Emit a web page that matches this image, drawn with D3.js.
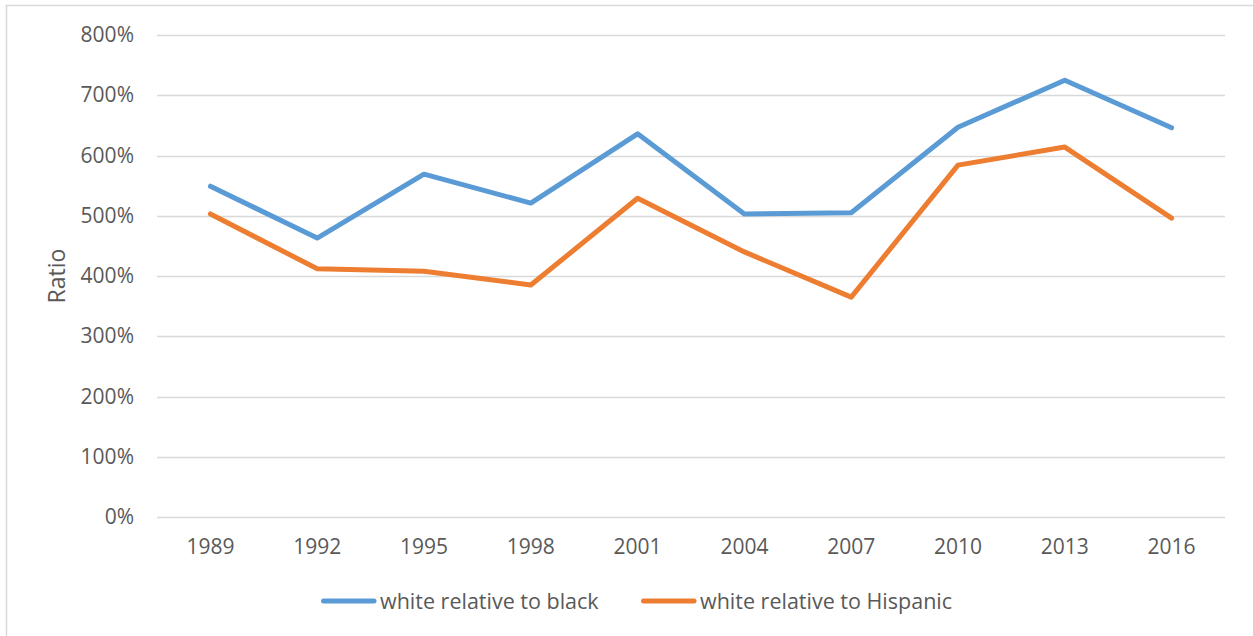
<!DOCTYPE html>
<html>
<head>
<meta charset="utf-8">
<script src="https://cdn.jsdelivr.net/npm/d3@7"></script>
<style>
  html, body { margin: 0; padding: 0; background: #fff; }
  svg { display: block; }
  text { font-family: "Open Sans", sans-serif; fill: #595959; }
</style>
</head>
<body>
<svg id="chart" width="1253" height="636"></svg>
<script>
// Wealth ratio by survey year
const years = ["1989", "1992", "1995", "1998", "2001", "2004", "2007", "2010", "2013", "2016"];
const whiteToBlack = [549, 463, 569, 521, 636, 503, 505, 647, 725, 646];
const whiteToHispanic = [503, 412, 408, 385, 529, 440, 365, 584, 614, 496];
const yTicks = [0, 100, 200, 300, 400, 500, 600, 700, 800];
const seriesNames = ["white relative to black", "white relative to Hispanic"];
const seriesColors = ["#5b9bd5", "#ed7d31"];

const svg = d3.select("#chart");
const W = 1253, H = 636;
const margin = { left: 157, right: 28, top: 35, bottom: 119 };

// outer frame
svg.append("rect")
  .attr("x", 6.5).attr("y", 5.5)
  .attr("width", W + 10).attr("height", H + 10)
  .attr("fill", "none").attr("stroke", "#d9d9d9").attr("stroke-width", 1.5);

const x = d3.scaleBand().domain(years).range([margin.left, W - margin.right]);
const y = d3.scaleLinear().domain([0, 800]).range([H - margin.bottom, margin.top]);

// gridlines
svg.append("g")
  .selectAll("line").data(yTicks).join("line")
  .attr("x1", margin.left).attr("x2", W - margin.right)
  .attr("y1", d => Math.round(y(d)) + 0.5).attr("y2", d => Math.round(y(d)) + 0.5)
  .attr("stroke", "#d9d9d9").attr("stroke-width", 1.5);

// y axis labels
const yAxis = d3.axisLeft(y).tickValues(yTicks).tickFormat(d => d + "%").tickSize(0).tickPadding(23);
const gy = svg.append("g").attr("transform", `translate(${margin.left},0)`).call(yAxis);
gy.select(".domain").remove();
gy.selectAll("text").attr("font-size", 21).attr("font-family", "Open Sans, sans-serif").attr("fill", "#595959");

// x axis labels
const xAxis = d3.axisBottom(x).tickSize(0).tickPadding(22);
const gx = svg.append("g").attr("transform", `translate(0,${H - margin.bottom})`).call(xAxis);
gx.select(".domain").remove();
gx.selectAll("text").attr("font-size", 21).attr("font-family", "Open Sans, sans-serif").attr("fill", "#595959");

// y axis title
svg.append("text")
  .attr("transform", `translate(65,${(margin.top + H - margin.bottom) / 2}) rotate(-90)`)
  .attr("text-anchor", "middle")
  .attr("font-size", 23)
  .text("Ratio");

// series lines
const line = d3.line()
  .x((d, i) => x(years[i]) + x.bandwidth() / 2)
  .y(d => y(d));

[whiteToBlack, whiteToHispanic].forEach((vals, k) => {
  svg.append("path")
    .datum(vals)
    .attr("d", line)
    .attr("fill", "none")
    .attr("stroke", seriesColors[k])
    .attr("stroke-width", 5)
    .attr("stroke-linejoin", "round")
    .attr("stroke-linecap", "round");
});

// legend
const legendY = 601;
const legendItems = [{ x0: 323.5, x1: 374 }, { x0: 643.5, x1: 694 }];
legendItems.forEach((it, k) => {
  svg.append("line")
    .attr("x1", it.x0).attr("x2", it.x1)
    .attr("y1", legendY).attr("y2", legendY)
    .attr("stroke", seriesColors[k]).attr("stroke-width", 5)
    .attr("stroke-linecap", "round");
  svg.append("text")
    .attr("x", it.x1 + 6).attr("y", legendY)
    .attr("dy", "0.35em")
    .attr("font-size", 21.5)
    .text(seriesNames[k]);
});
</script>
</body>
</html>
